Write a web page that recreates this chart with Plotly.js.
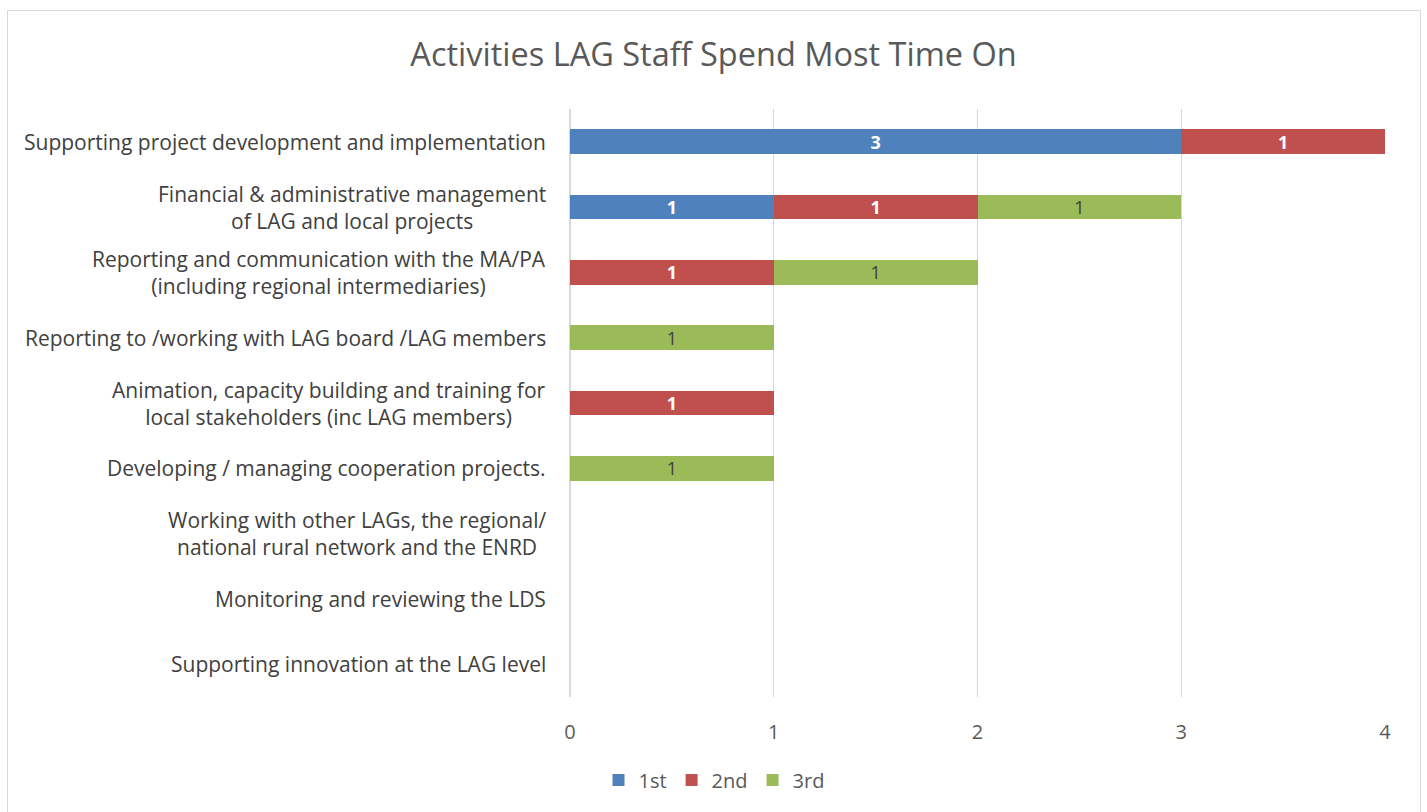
<!DOCTYPE html>
<html><head><meta charset="utf-8">
<script src="https://cdn.plot.ly/plotly-3.0.1.min.js"></script>
<style>
body{margin:0;padding:0;background:#fff;}
#chart{position:absolute;left:0;top:0;width:1427px;height:812px;}
#frame{position:absolute;left:7px;top:10px;width:1412px;height:820px;border:1.5px solid #d9d9d9;pointer-events:none;}
</style></head>
<body>
<div id="chart"></div>
<div id="frame"></div>
<script>
const categories = [
  "Supporting project development and implementation",
  "Financial & administrative management<br>of LAG and local projects",
  "Reporting and communication with the MA/PA<br>(including regional intermediaries)",
  "Reporting to /working with LAG board /LAG members",
  "Animation, capacity building and training for<br>local stakeholders (inc LAG members)",
  "Developing / managing cooperation projects.",
  "Working with other LAGs, the regional/<br>national rural network and the ENRD",
  "Monitoring and reviewing the LDS",
  "Supporting innovation at the LAG level"
];
const first  = [3, 1, null, null, null, null, null, null, null];
const second = [1, 1, 1, null, 1, null, null, null, null];
const third  = [null, 1, 1, 1, null, 1, null, null, null];
const seriesNames = ["1st", "2nd", "3rd"];
const colors = ["#4F81BD", "#C0504D", "#9BBB59"];
const labelColors = ["#FFFFFF", "#FFFFFF", "#404040"];
const xTicks = [0, 1, 2, 3, 4];

const font = "Open Sans, Liberation Sans, sans-serif";
const data = [first, second, third].map((vals, i) => ({
  type: "bar",
  orientation: "h",
  name: seriesNames[i],
  y: categories,
  x: vals,
  marker: {color: colors[i]},
  texttemplate: "%{x}",
  textposition: "inside",
  insidetextanchor: "middle",
  constraintext: "none",
  textangle: 0,
  textfont: {family: font, size: 18, color: labelColors[i], weight: i < 2 ? 700 : 400},
  hoverinfo: "none"
}));

const annotations = categories.map(c => ({
  xref: "paper", yref: "y", x: 0, y: c, xanchor: "right", yanchor: "middle",
  xshift: -22, text: c, showarrow: false, align: "center",
  font: {family: font, size: 21, color: "#404040"}
}));

const layout = {
  width: 1427, height: 812,
  margin: {l: 570, r: 42, t: 109, b: 115, autoexpand: false},
  paper_bgcolor: "#fff", plot_bgcolor: "#fff",
  barmode: "stack",
  bargap: 0.62,
  title: {text: "Activities LAG Staff Spend Most Time On", x: 0.5, xref: "container", y: 1 - 55/812, yref: "container", yanchor: "middle", xanchor: "center",
          font: {family: font, size: 32.5, color: "#595959"}},
  xaxis: {range: [0, 4], tickvals: xTicks, showgrid: true, gridcolor: "#D9D9D9", gridwidth: 1.3,
          zeroline: true, zerolinecolor: "#D9D9D9", zerolinewidth: 1.3, showline: false, ticks: "", ticklabelstandoff: 21, automargin: false,
          tickfont: {family: font, size: 20, color: "#595959"}, fixedrange: true},
  yaxis: {type: "category", autorange: "reversed", showticklabels: false, showgrid: false, zeroline: false, showline: false, ticks: "", automargin: false},
  showlegend: true,
  legend: {orientation: "h", x: (714-570)/815, xanchor: "center", y: (697-780)/588, yanchor: "middle", itemwidth: 30,
           font: {family: font, size: 20, color: "#595959"}, traceorder: "normal"},
  annotations: annotations
};
Plotly.newPlot("chart", data, layout, {staticPlot: true, displayModeBar: false});
</script>
</body></html>
